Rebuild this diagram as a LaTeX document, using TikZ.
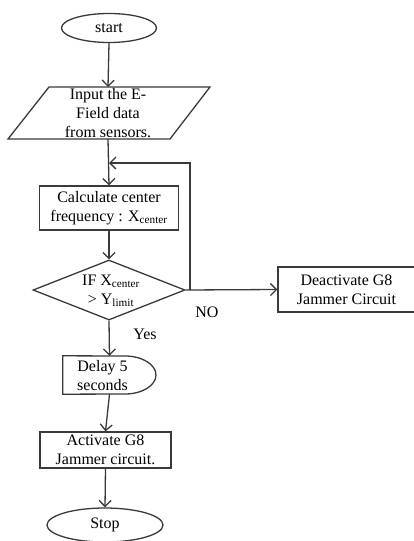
\documentclass[tikz,border=0pt]{standalone}
\usepackage{fontspec}
\setmainfont{Liberation Serif}
\usetikzlibrary{arrows.meta,shapes.geometric}
\definecolor{lc}{HTML}{3A3A3A}
\begin{document}
\begin{tikzpicture}[x=1pt,y=-1pt,
  base/.style={draw=lc, line width=1.3pt},
  txt/.style={align=center, font=\fontsize{16}{19}\selectfont, inner sep=0pt, text=black},
  boxn/.style={base, txt, rectangle},
  arr/.style={draw=lc, line width=1.3pt, -{Straight Barb[length=6pt,width=12pt,line width=1.3pt]}},
  ln/.style={draw=lc, line width=1.3pt}]
\useasboundingbox (0,0) rectangle (414,541);
\fill[white] (0,0) rectangle (414,541);

% start
\node[base, txt, ellipse, minimum width=95pt, minimum height=29pt] (start) at (109,28) {start};

% input parallelogram
\coordinate (p1) at (49,87);
\coordinate (p2) at (210,87);
\coordinate (p3) at (170,139);
\coordinate (p4) at (8,139);
\draw[base, line join=miter] (p1) -- (p2) -- (p3) -- (p4) -- cycle;
\node[txt] (input) at (108,113) {Input the E-\\Field data\\from sensors.};
\coordinate (inN) at (108,87);
\coordinate (inS) at (108,139);

% calculate
\node[boxn, minimum width=139pt, minimum height=44pt] (calc) at (109,208)
  {Calculate center\\frequency : X\textsubscript{center}};

% decision
\node[base, diamond, minimum width=152pt, minimum height=60pt, inner sep=0pt] (dec) at (109,290) {};
\node[txt] (dectxt) at (111,291) {IF X\textsubscript{center}\\ > Y\textsubscript{limit}};

% deactivate
\node[boxn, minimum width=137pt, minimum height=45pt] (deact) at (346.5,289.5)
  {Deactivate G8\\Jammer Circuit};

% delay
\node[minimum width=93pt, minimum height=38pt, inner sep=0pt] (delay) at (109.5,375) {};
\draw[base] (delay.north west) -- (125,356)
  .. controls (142.1,356) and (156,364.5) .. (156,375)
  .. controls (156,385.5) and (142.1,394) .. (125,394)
  -- (delay.south west) -- cycle;
\node[txt] (delaytxt) at (102.5,376) {Delay 5\\seconds};

% activate
\node[boxn, minimum width=131pt, minimum height=36pt] (act) at (105.5,450)
  {Activate G8\\Jammer circuit.};

% stop
\node[base, txt, ellipse, minimum width=116pt, minimum height=34pt] (stop) at (105,525) {Stop};

% connectors
\draw[arr] (start.south) -- (inN);
\draw[arr] (inS) -- (calc.north);
\draw[arr] (calc.south) -- (dec.north);
\draw[arr] (dec.east) -- (deact.west);
\coordinate (j) at (190,290);
\coordinate (m) at (109,163);
\draw[arr] (j) |- (m);
\draw[arr] (dec.south) -- (delay.north);
\draw[arr] (delay.south) -- (act.north);
\draw[arr] (act.south) -- (stop.north);

% labels
\node[txt] (no) at (207,312) {NO};
\node[txt] (yes) at (145,334) {Yes};
\end{tikzpicture}
\end{document}
